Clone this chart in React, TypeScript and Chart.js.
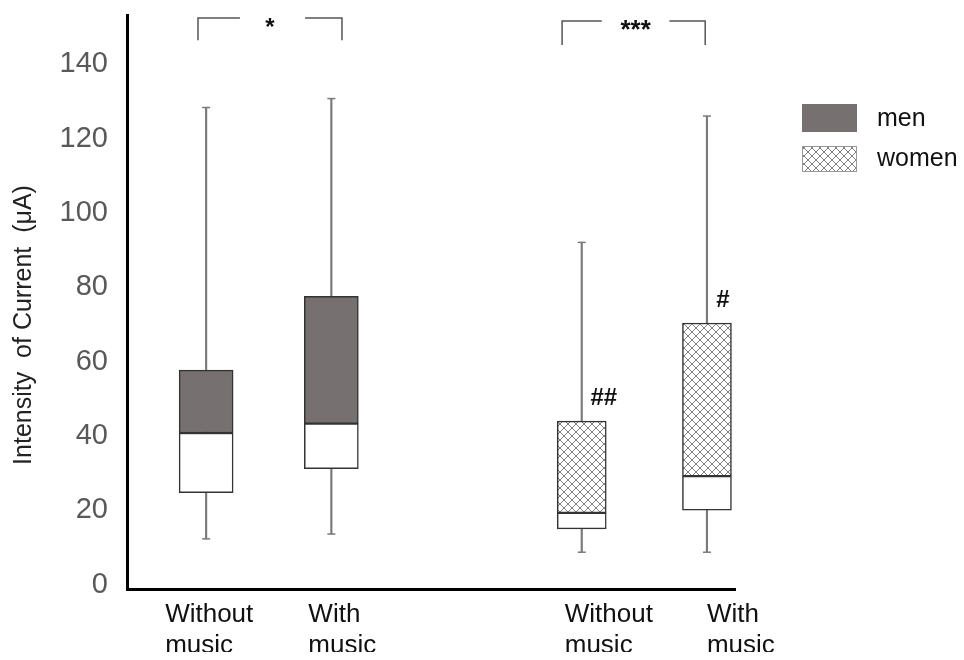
import React, { useEffect, useRef } from 'react';
import { Chart, registerables } from 'chart.js';

Chart.register(...registerables);

const FONT = '"Liberation Sans", Arial, sans-serif';

const xLabels = [['Without', 'music'], ['With', 'music'], ['Without', 'music'], ['With', 'music']];
const seriesNames = ['men', 'women'];
const menX = [0, 1];
const womenX = [3, 4];
const menMin = [12.3, 13.6];
const menQ1 = [24.7, 31.2];
const menMedian = [40.8, 43.3];
const menQ3 = [57.7, 77.6];
const menMax = [128.4, 130.8];
const womenMin = [8.7, 8.7];
const womenQ1 = [15.0, 20.0];
const womenMedian = [19.3, 29.2];
const womenQ3 = [44.0, 70.4];
const womenMax = [92.1, 126.1];
const yTicks = [0, 20, 40, 60, 80, 100, 120, 140];
const sigLabels = ['*', '***'];
const hashLabels = ['##', '#'];
const yTitle = 'Intensity  of Current  (μA)';

export default function App() {
  const ref = useRef<HTMLCanvasElement>(null);

  useEffect(() => {
    const canvas = ref.current!;
    const pc = document.createElement('canvas');
    pc.width = 8;
    pc.height = 8;
    const pctx = pc.getContext('2d')!;
    pctx.fillStyle = '#ffffff';
    pctx.fillRect(0, 0, 8, 8);
    pctx.strokeStyle = '#808080';
    pctx.lineWidth = 1;
    pctx.beginPath();
    pctx.moveTo(-1, -1); pctx.lineTo(9, 9);
    pctx.moveTo(9, -1); pctx.lineTo(-1, 9);
    pctx.stroke();
    const hatch = canvas.getContext('2d')!.createPattern(pc, 'repeat')!;

    const overlay = {
      id: 'overlay',
      afterDraw(chart: any) {
        const { ctx, chartArea } = chart;
        const xs = chart.scales.x;
        const ys = chart.scales.y;
        const px = (v: number) => xs.getPixelForValue(v);
        const py = (v: number) => ys.getPixelForValue(v);
        ctx.save();

        // significance brackets
        const brackets = [
          { x0: -0.065, x1: 1.085, g0: 0.27, g1: 0.79, top: 152.5, bottom: 146.5, lx: 0.51, ly: 148.0, size: 24 },
          { x0: 2.843, x1: 3.986, g0: 3.16, g1: 3.70, top: 151.7, bottom: 145.2, lx: 3.43, ly: 147.1, size: 26 },
        ];
        brackets.forEach((b, i) => {
          ctx.strokeStyle = '#555';
          ctx.lineWidth = 1.5;
          ctx.beginPath();
          ctx.moveTo(px(b.x0), py(b.bottom));
          ctx.lineTo(px(b.x0), py(b.top));
          ctx.lineTo(px(b.g0), py(b.top));
          ctx.moveTo(px(b.g1), py(b.top));
          ctx.lineTo(px(b.x1), py(b.top));
          ctx.lineTo(px(b.x1), py(b.bottom));
          ctx.stroke();
          ctx.fillStyle = '#111';
          ctx.font = `bold ${b.size}px ${FONT}`;
          ctx.textAlign = 'center';
          ctx.textBaseline = 'alphabetic';
          ctx.fillText(sigLabels[i], px(b.lx), py(b.ly));
        });

        // hash marks
        ctx.font = `bold 24px ${FONT}`;
        ctx.textAlign = 'center';
        ctx.textBaseline = 'middle';
        ctx.fillStyle = '#111';
        const hashOff = [22, 16];
        womenX.forEach((xv, i) => ctx.fillText(hashLabels[i], px(xv) + hashOff[i], py(womenQ3[i] + 6)));

        // x labels
        const allX = [...menX, ...womenX];
        const off = [-41, -23, -17, 0];
        ctx.font = `26px ${FONT}`;
        ctx.textAlign = 'left';
        ctx.textBaseline = 'alphabetic';
        allX.forEach((xv, i) =>
          xLabels[i].forEach((line, j) => ctx.fillText(line, px(xv) + off[i], chartArea.bottom + 33 + j * 31))
        );

        // legend
        const lx = chartArea.right + 67;
        const lt = chartArea.top + 89;
        ctx.fillStyle = '#767070';
        ctx.fillRect(lx, lt, 55, 28);
        ctx.fillStyle = hatch;
        ctx.fillRect(lx, lt + 42, 55, 26);
        ctx.strokeStyle = '#999';
        ctx.lineWidth = 1;
        ctx.strokeRect(lx + 0.5, lt + 42.5, 54, 25);
        ctx.fillStyle = '#111';
        ctx.font = `25px ${FONT}`;
        ctx.textAlign = 'left';
        ctx.textBaseline = 'middle';
        ctx.fillText(seriesNames[0], lx + 75, lt + 15);
        ctx.fillText(seriesNames[1], lx + 75, lt + 55);

        // y title
        ctx.translate(16, 317);
        ctx.rotate(-Math.PI / 2);
        ctx.textAlign = 'center';
        ctx.textBaseline = 'middle';
        ctx.font = `25px ${FONT}`;
        ctx.fillStyle = '#222';
        ctx.fillText(yTitle, 0, 0);
        ctx.restore();
      },
    };

    const boxCommon = {
      type: 'bar' as const,
      borderColor: '#333',
      borderWidth: 1.5,
      borderSkipped: false,
      grouped: false,
    };
    const whiskerCommon = {
      type: 'bar' as const,
      backgroundColor: '#7a7a7a',
      borderWidth: 0,
      barThickness: 1.5,
      grouped: false,
    };

    const chart = new Chart(canvas, {
      type: 'bar',
      data: {
        datasets: [
          { ...boxCommon, label: 'men upper', barThickness: 54, backgroundColor: '#767070',
            data: menX.map((x, i) => ({ x, y: [menMedian[i], menQ3[i]] })) },
          { ...boxCommon, label: 'men lower', barThickness: 54, backgroundColor: '#ffffff',
            data: menX.map((x, i) => ({ x, y: [menQ1[i], menMedian[i]] })) },
          { ...boxCommon, label: 'women upper', barThickness: 49, backgroundColor: hatch,
            data: womenX.map((x, i) => ({ x, y: [womenMedian[i], womenQ3[i]] })) },
          { ...boxCommon, label: 'women lower', barThickness: 49, backgroundColor: '#ffffff',
            data: womenX.map((x, i) => ({ x, y: [womenQ1[i], womenMedian[i]] })) },
          { ...whiskerCommon, label: 'men whisker',
            data: menX.map((x, i) => ({ x, y: [menMin[i], menMax[i]] })) },
          { ...whiskerCommon, label: 'women whisker',
            data: womenX.map((x, i) => ({ x, y: [womenMin[i], womenMax[i]] })) },
          {
            type: 'scatter', label: 'caps',
            data: [
              ...menX.map((x, i) => ({ x, y: menMin[i] })),
              ...menX.map((x, i) => ({ x, y: menMax[i] })),
              ...womenX.map((x, i) => ({ x, y: womenMin[i] })),
              ...womenX.map((x, i) => ({ x, y: womenMax[i] })),
            ],
            pointStyle: 'line', pointRadius: 4, pointHoverRadius: 4,
            borderColor: '#7a7a7a', borderWidth: 1.5, backgroundColor: '#7a7a7a',
          } as any,
        ] as any,
      },
      options: {
        animation: false,
        responsive: true,
        maintainAspectRatio: false,
        layout: { padding: { top: 7, right: 221, left: 0, bottom: 0 } },
        plugins: { legend: { display: false }, tooltip: { enabled: false } },
        scales: {
          x: {
            type: 'linear',
            offset: false,
            min: -0.632,
            max: 4.224,
            ticks: { display: false },
            grid: { display: false, drawTicks: false },
            border: { display: true, color: '#000', width: 3 },
            afterFit: (s: any) => { s.height = 63; s.paddingLeft = 0; s.paddingRight = 0; },
          },
          y: {
            type: 'linear',
            min: -1.2,
            max: 153.3,
            afterBuildTicks: (s: any) => { s.ticks = yTicks.map((v) => ({ value: v })); },
            afterFit: (s: any) => { s.width = 119; s.paddingTop = 0; s.paddingBottom = 0; },
            grid: { display: false, drawTicks: false },
            border: { display: true, color: '#000', width: 3 },
            ticks: { font: { size: 29, family: FONT }, color: '#595959', padding: 19 },
          },
        },
      } as any,
      plugins: [overlay],
    });
    return () => chart.destroy();
  }, []);

  return (
    <div style={{ width: 948, height: 644, position: 'relative' }}>
      <canvas ref={ref} />
    </div>
  );
}
